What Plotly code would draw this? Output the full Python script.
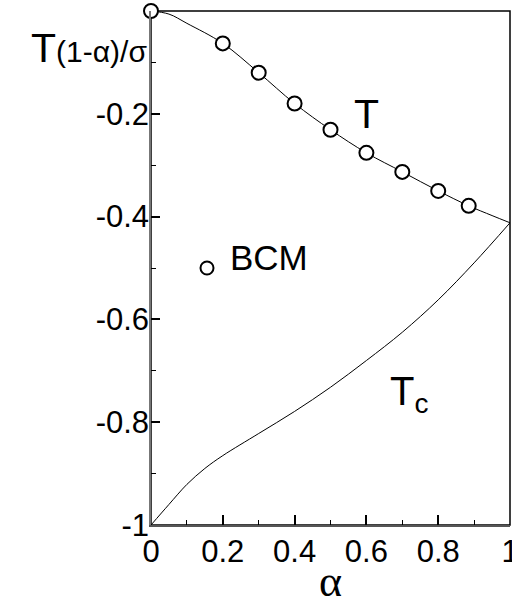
import plotly.graph_objects as go

# T line (smooth curve) and computed points along it
alpha_T_line = [0.0, 0.05, 0.1, 0.2, 0.3, 0.4, 0.5, 0.6, 0.7, 0.8, 0.885, 0.95, 1.0]
T_line = [0.0, -0.006, -0.024, -0.063, -0.12, -0.18, -0.231, -0.276, -0.313, -0.35, -0.379, -0.398, -0.412]

alpha_T_pts = [0.0, 0.2, 0.3, 0.4, 0.5, 0.6, 0.7, 0.8, 0.885]
T_pts = [0.0, -0.063, -0.12, -0.18, -0.231, -0.276, -0.313, -0.35, -0.379]

# Tc line
alpha_Tc = [0.0, 0.05, 0.1, 0.15, 0.2, 0.3, 0.4, 0.5, 0.6, 0.7, 0.8, 0.9, 1.0]
Tc_line = [-1.0, -0.96, -0.921, -0.89, -0.865, -0.822, -0.779, -0.732, -0.68, -0.625, -0.562, -0.49, -0.412]

# BCM point
alpha_bcm = [0.156]
T_bcm = [-0.5]

x_ticks = [0, 0.2, 0.4, 0.6, 0.8, 1]
x_ticktext = ["0", "0.2", "0.4", "0.6", "0.8", "1"]
y_ticks = [-1, -0.8, -0.6, -0.4, -0.2]
y_ticktext = ["-1", "-0.8", "-0.6", "-0.4", "-0.2"]

fig = go.Figure()
fig.add_trace(go.Scatter(x=alpha_T_line, y=T_line, mode="lines",
                         line=dict(color="black", width=1, shape="spline", smoothing=1.0),
                         hoverinfo="skip", cliponaxis=False))
fig.add_trace(go.Scatter(x=alpha_Tc, y=Tc_line, mode="lines",
                         line=dict(color="black", width=1, shape="spline", smoothing=1.0),
                         hoverinfo="skip", cliponaxis=False))
fig.add_trace(go.Scatter(x=alpha_T_pts, y=T_pts, mode="markers",
                         marker=dict(symbol="circle", size=14, color="white",
                                     line=dict(color="black", width=2)),
                         cliponaxis=False))
fig.add_trace(go.Scatter(x=alpha_bcm, y=T_bcm, mode="markers",
                         marker=dict(symbol="circle", size=13, color="white",
                                     line=dict(color="black", width=2)),
                         cliponaxis=False))

font_main = "Liberation Sans, Arial, sans-serif"

fig.update_xaxes(range=[0, 1], tickvals=x_ticks, ticktext=x_ticktext,
                 ticks="inside", ticklen=10, tickwidth=2, tickcolor="black",
                 minor=dict(dtick=0.1, ticks="inside", ticklen=5, tickwidth=1, tickcolor="black"),
                 showline=True, linecolor="#555555", linewidth=2, mirror=False,
                 showgrid=False, zeroline=False, ticklabelstandoff=-2,
                 ticklabeloverflow="allow", automargin=False,
                 tickfont=dict(family=font_main, size=31, color="black"))
fig.update_yaxes(range=[-1, 0], tickvals=y_ticks, ticktext=y_ticktext,
                 ticks="inside", ticklen=9, tickwidth=2, tickcolor="black",
                 minor=dict(dtick=0.1, ticks="inside", ticklen=5, tickwidth=1, tickcolor="black"),
                 showline=True, linecolor="#777777", linewidth=1.5, mirror=False,
                 showgrid=False, zeroline=False, ticklabelstandoff=-6,
                 ticklabeloverflow="allow", automargin=False,
                 tickfont=dict(family=font_main, size=31, color="black"))

# plot frame (top and right edges in black)
fig.add_shape(type="rect", xref="paper", yref="paper", x0=0, x1=1, y0=0, y1=1,
              line=dict(color="black", width=1.5), layer="below")

fig.add_annotation(x=0.0, y=1.0, xref="paper", yref="paper", xanchor="right", yanchor="top",
                   xshift=-2, yshift=-12,
                   text="T<span style='font-size:30px'>(1-α)/σ</span>", showarrow=False,
                   font=dict(family=font_main, size=41, color="black"))
fig.add_annotation(x=0.5, y=0, xref="paper", yref="paper", xanchor="center", yanchor="top",
                   yshift=-30, text="α", showarrow=False,
                   font=dict(family="Liberation Serif, serif", size=44, color="black"))
fig.add_annotation(x=0.6, y=-0.2, xref="x", yref="y", xanchor="center", yanchor="middle",
                   text="T", showarrow=False,
                   font=dict(family=font_main, size=41, color="black"))
fig.add_annotation(x=0.215, y=-0.48, xref="x", yref="y", xanchor="left", yanchor="middle",
                   text="BCM", showarrow=False,
                   font=dict(family=font_main, size=35, color="black"))
fig.add_annotation(x=0.66, y=-0.745, xref="x", yref="y", xanchor="left", yanchor="middle",
                   text="T<sub>c</sub>", showarrow=False,
                   font=dict(family=font_main, size=40, color="black"))

fig.update_layout(width=512, height=605, margin=dict(l=151, r=2, t=11, b=80, autoexpand=False),
                  paper_bgcolor="white", plot_bgcolor="white", showlegend=False)

fig.write_html("out.html")
